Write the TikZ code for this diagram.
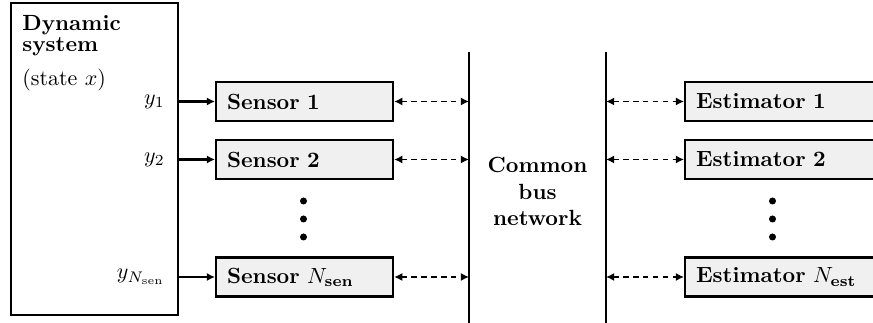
\documentclass[tikz,border=0pt]{standalone}
\usetikzlibrary{arrows.meta}
\tikzset{
	blockbox/.style={draw, line width=1pt, fill=black!6, anchor=west, font=\bfseries, minimum height=0.624cm, inner xsep=0.176cm, align=left},
	sensorbox/.style={blockbox, text width=2.48cm},
	estbox/.style={blockbox, text width=4cm},
	sigarrow/.style={line width=1pt, -{Latex[length=1.3mm,width=1.3mm]}},
	busarrow/.style={line width=0.8pt, dash pattern=on 2.5pt off 2pt, {Latex[length=1.3mm,width=1.3mm]}-{Latex[length=1.3mm,width=1.3mm]}},
	buswire/.style={line width=1pt},
}

\begin{document}
\begin{tikzpicture}
	%%%%% START %%%%%
	\useasboundingbox (0, 0) rectangle (13.968, 5.168);
	
	% dynamic system
	\node[draw, line width=1pt, anchor=south west, minimum width=2.672cm, minimum height=4.992cm, inner sep=0pt] (dyn) at (0.16, 0.112) {};
	\node[anchor=north west, align=left, inner sep=0pt] (dyntext) at (0.352, 4.93) {\textbf{Dynamic}\\[-2.2pt]\textbf{system}\\[3.5pt](state $x$)};
	
	% sensors
	\node[sensorbox] (s1) at (3.44, 3.544) {Sensor 1};
	\node[sensorbox] (s2) at (3.44, 2.616) {Sensor 2};
	\node[sensorbox] (sn) at (3.44, 0.736) {Sensor $N_{\mathbf{sen}}$};
	
	\node[anchor=east, inner xsep=6.4pt] (y1) at (dyn.east |- s1.west) {$y_1$};
	\node[anchor=east, inner xsep=6.4pt] (y2) at (dyn.east |- s2.west) {$y_2$};
	\node[anchor=east, inner xsep=6.4pt] (yn) at (dyn.east |- sn.west) {$y_{N_\mathrm{sen}}$};
	
	\draw[sigarrow] (y1.east) -- (s1.west);
	\draw[sigarrow] (y2.east) -- (s2.west);
	\draw[sigarrow] (yn.east) -- (sn.west);
	
	\fill (4.856, 1.952) circle (0.056);
	\fill (4.856, 1.664) circle (0.056);
	\fill (4.856, 1.376) circle (0.056);
	
	% common bus
	\coordinate (busL) at (7.504, 4.336);
	\coordinate (busR) at (9.696, 4.336);
	\draw[buswire] (busL) -- (7.504, -0.1);
	\draw[buswire] (busR) -- (9.696, -0.1);
	\node[align=center, font=\bfseries] (bus) at (8.6, 2.1) {Common\\bus\\network};
	
	\draw[busarrow] (s1.east) -- (s1.east -| busL);
	\draw[busarrow] (s2.east) -- (s2.east -| busL);
	\draw[busarrow] (sn.east) -- (sn.east -| busL);
	
	% estimators
	\node[estbox] (e1) at (10.944, 3.544) {Estimator 1};
	\node[estbox] (e2) at (10.944, 2.616) {Estimator 2};
	\node[estbox] (en) at (10.944, 0.736) {Estimator $N_{\mathbf{est}}$};
	
	\draw[busarrow] (e1.west -| busR) -- (e1.west);
	\draw[busarrow] (e2.west -| busR) -- (e2.west);
	\draw[busarrow] (en.west -| busR) -- (en.west);
	
	\fill (12.36, 1.952) circle (0.056);
	\fill (12.36, 1.664) circle (0.056);
	\fill (12.36, 1.376) circle (0.056);
	%%%%% END %%%%%
\end{tikzpicture}
\end{document}
